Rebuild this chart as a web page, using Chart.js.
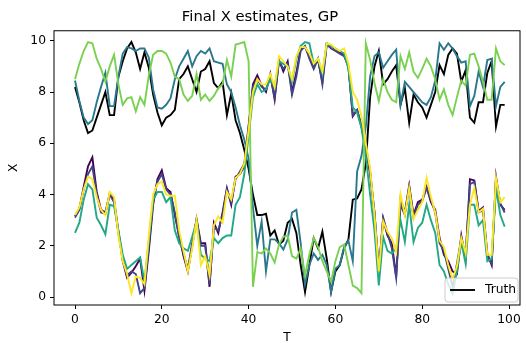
<!DOCTYPE html>
<html>
<head>
<meta charset="utf-8">
<script src="https://cdn.jsdelivr.net/npm/chart.js@4.4.0/dist/chart.umd.min.js"></script>
<style>
  html, body { margin: 0; padding: 0; background: #fff; }
  #wrap { width: 526px; height: 343px; position: relative; }
</style>
</head>
<body>
<div id="wrap"><canvas id="c" width="526" height="343"></canvas></div>
<script>
// ---- data ----
const T = Array.from({length: 100}, (_, i) => i);
const xTicks = [0, 20, 40, 60, 80, 100];
const yTicks = [0, 2, 4, 6, 8, 10];

const truth = [8.2,7.6,6.9,6.4,6.5,7.0,7.5,8.0,7.1,7.1, 8.6,9.2,9.7,9.95,9.55,8.9,9.55,8.95,7.9,7.2,
  6.7,7.0,7.1,7.3,8.5,8.7,9.0,8.5,8.0,8.8, 8.9,9.2,8.35,8.15,8.4,7.1,7.95,6.9,6.4,5.75,
  5.0,4.0,3.2,3.2,3.25,2.4,2.6,2.05,2.2,2.9, 3.05,2.5,1.25,0.2,1.25,2.3,1.9,2.55,1.5,0.2,
  1.0,1.25,1.9,2.25,3.8,3.85,4.2,5.2,7.8,9.0, 9.6,8.3,8.5,8.8,9.05,7.5,8.15,6.8,7.9,7.6,
  7.4,7.0,7.5,8.0,9.05,8.7,9.45,9.7,9.5,8.4, 8.85,7.0,6.8,7.6,7.6,8.75,9.2,6.65,7.5,7.5];

const estPurple = [3.15,3.45,4.3,5.1,5.45,4.1,3.4,3.3,4.05,3.8, 2.55,1.4,0.75,0.95,1.2,1.5,0.25,1.8,3.6,4.6,
  4.95,4.25,4.1,3.2,2.4,1.6,1.0,2.0,3.05,2.1, 2.1,0.4,2.9,2.5,3.3,4.25,3.6,4.7,4.8,5.1,
  6.6,8.3,8.65,8.25,8.0,8.7,7.7,9.25,8.8,9.2, 8.0,8.75,9.7,9.75,9.4,9.0,9.25,8.4,9.9,9.8,
  9.65,9.55,9.45,9.0,7.05,7.3,6.65,5.8,4.8,3.3, 1.0,3.05,2.4,2.1,0.8,3.8,3.3,4.35,3.2,3.7,
  3.8,4.3,3.7,3.4,2.3,1.65,1.4,1.0,0.9,2.4, 1.5,4.6,4.55,3.35,3.5,1.7,1.25,4.7,3.6,3.4];

const estBlue = [3.1,3.4,4.2,4.8,5.1,4.0,3.3,3.25,4.0,3.7, 2.5,1.5,0.85,1.0,0.9,0.15,0.35,2.0,3.8,4.5,
  4.8,4.2,4.0,3.3,2.3,1.7,1.1,2.1,3.0,2.0, 2.0,0.5,2.7,2.6,3.2,4.2,3.7,4.6,4.9,5.2,
  6.7,8.2,8.5,8.2,8.1,8.6,7.8,9.2,8.9,9.1, 7.9,8.6,9.6,9.8,9.3,8.9,9.3,8.3,9.85,9.7,
  9.6,9.5,9.4,9.0,7.1,7.3,6.7,5.9,4.9,3.3, 1.05,3.1,2.5,1.9,0.75,3.6,3.2,4.3,3.1,3.6,
  3.75,4.25,3.8,3.3,2.1,1.8,1.1,0.4,1.3,2.3, 1.6,4.4,4.5,3.3,3.4,1.6,1.3,4.6,3.65,3.3];

const estTeal = [8.45,7.65,7.0,6.75,6.9,7.6,8.2,8.75,7.45,7.45, 8.6,9.5,9.75,9.7,9.6,9.7,9.7,9.35,8.1,7.4,
  7.35,7.5,7.75,8.5,9.0,9.3,9.6,9.0,9.4,9.6, 9.5,9.7,9.2,9.15,9.1,8.3,8.0,7.4,6.7,6.15,
  5.4,3.5,2.0,2.95,1.0,2.25,2.25,2.1,1.85,2.25, 3.3,3.4,2.1,0.5,1.25,1.7,1.45,1.65,1.25,0.2,
  1.1,1.25,1.95,2.2,1.4,4.9,5.5,6.65,8.6,9.4, 9.55,8.95,9.2,9.45,9.65,7.5,8.4,8.2,8.0,7.8,
  7.6,7.5,7.8,8.45,9.9,9.65,9.9,9.7,9.4,9.15, 9.2,7.45,7.85,8.8,8.2,9.25,9.3,7.45,8.2,8.4];

const estGreen = [2.5,2.9,3.8,4.4,4.2,3.1,2.8,2.45,3.6,3.55, 2.6,1.65,1.1,1.25,1.4,1.55,0.6,2.2,3.8,4.1,
  4.1,3.7,3.9,2.6,2.1,1.9,1.8,2.35,2.95,1.65, 1.5,1.4,2.3,2.1,2.3,2.4,2.4,3.6,3.9,4.8,
  6.3,7.8,8.3,8.0,8.1,8.5,8.2,9.2,9.1,9.0, 8.4,9.3,9.8,9.95,9.9,9.1,9.3,8.7,9.9,9.8,
  9.7,9.6,9.5,8.9,7.4,7.2,6.6,5.5,4.0,2.6, 0.45,2.35,1.8,1.7,1.9,3.0,2.15,3.6,2.15,2.7,
  2.9,3.6,3.0,2.5,1.25,1.0,0.5,0.15,1.0,2.15, 1.3,3.6,3.6,2.8,3.0,1.4,1.5,4.25,3.2,2.75];

const estLime = [8.5,9.1,9.6,9.95,9.9,9.3,8.9,8.4,9.0,9.45, 8.3,7.5,7.75,7.8,7.25,7.8,7.5,8.65,9.45,9.6,
  9.6,9.5,9.15,8.6,8.5,7.9,7.65,7.85,8.7,7.7, 7.9,7.65,7.85,8.15,8.3,9.25,8.6,9.85,9.9,9.95,
  9.2,0.4,1.75,1.7,1.9,1.7,1.35,2.05,2.35,2.4, 1.6,1.5,1.9,0.85,1.65,2.3,1.95,1.4,1.0,0.6,
  1.4,1.95,2.05,1.25,0.45,0.35,0.15,9.9,9.25,8.35, 7.65,8.5,8.0,7.7,7.6,9.4,8.9,9.55,8.8,8.55,
  8.9,9.3,9.0,8.5,7.7,8.1,7.5,7.1,7.8,8.45, 8.25,9.45,9.5,9.0,8.4,7.7,7.7,9.7,9.2,9.05];

const estYellow = [3.2,3.5,4.2,4.7,4.6,3.9,3.4,3.2,4.1,3.9, 2.4,1.4,0.9,0.15,0.8,0.75,0.5,2.4,4.0,4.4,
  4.5,4.0,3.95,3.95,2.6,1.8,1.0,1.9,3.0,1.25, 1.6,0.85,2.8,3.15,2.9,4.1,3.8,4.65,4.8,5.2,
  6.5,8.0,8.5,8.3,8.3,8.7,8.2,9.4,9.2,9.0, 8.5,9.4,9.75,9.75,9.5,9.1,9.3,8.8,9.9,9.85,
  9.7,9.6,9.7,9.1,8.0,7.7,7.05,6.0,5.0,3.2, 1.0,2.95,2.55,2.3,1.75,4.0,3.2,4.25,3.05,3.4,
  3.7,4.65,3.9,3.3,2.2,1.95,1.25,0.7,1.2,2.3, 1.7,3.6,4.25,3.3,3.45,1.65,1.65,4.65,3.7,3.9];

const seriesList = [
  {label: 'Truth', values: truth, color: '#000000', order: 10},
  {label: '', values: estPurple, color: '#440154', order: 6},
  {label: '', values: estBlue, color: '#414487', order: 5},
  {label: '', values: estTeal, color: '#2a788e', order: 4},
  {label: '', values: estGreen, color: '#22a884', order: 3},
  {label: '', values: estLime, color: '#7ad151', order: 2},
  {label: '', values: estYellow, color: '#fde725', order: 1},
];

const FONT = "'DejaVu Sans', sans-serif";
const TICK_FONT = 12.3;

const framePlugin = {
  id: 'frame',
  afterDatasetsDraw(chart) {
    const {ctx, chartArea: a} = chart;
    ctx.save();
    ctx.strokeStyle = '#000';
    ctx.lineWidth = 1;
    ctx.strokeRect(a.left, a.top, a.right - a.left, a.bottom - a.top);
    // legend box (lower right, inside the axes)
    const bx = 445, by = 278, bw = 73, bh = 24, r = 3;
    ctx.beginPath();
    ctx.moveTo(bx + r, by);
    ctx.arcTo(bx + bw, by, bx + bw, by + bh, r);
    ctx.arcTo(bx + bw, by + bh, bx, by + bh, r);
    ctx.arcTo(bx, by + bh, bx, by, r);
    ctx.arcTo(bx, by, bx + bw, by, r);
    ctx.closePath();
    ctx.fillStyle = 'rgba(255,255,255,0.8)';
    ctx.fill();
    ctx.strokeStyle = '#cccccc';
    ctx.lineWidth = 1;
    ctx.stroke();
    ctx.beginPath();
    ctx.moveTo(450, 290);
    ctx.lineTo(475, 290);
    ctx.strokeStyle = '#000';
    ctx.lineWidth = 1.9;
    ctx.stroke();
    ctx.fillStyle = '#000';
    ctx.font = TICK_FONT + 'px ' + FONT;
    ctx.textBaseline = 'middle';
    ctx.textAlign = 'left';
    ctx.fillText(seriesList[0].label, 485, 290);
    ctx.restore();
  }
};

new Chart(document.getElementById('c'), {
  type: 'line',
  data: {
    datasets: seriesList.map(s => ({
      label: s.label,
      data: T.map((t, i) => ({x: t, y: s.values[i]})),
      borderColor: s.color,
      backgroundColor: s.color,
      borderWidth: 1.9,
      pointRadius: 0,
      tension: 0,
      fill: false,
      order: s.order,
    }))
  },
  options: {
    responsive: false,
    animation: false,
    devicePixelRatio: 1,
    layout: {padding: {left: 0, right: 6, top: 0, bottom: 0}},
    plugins: {
      legend: {display: false},
      tooltip: {enabled: false},
      title: {
        display: true,
        text: 'Final X estimates, GP',
        color: '#000',
        font: {family: FONT, size: 14.8, weight: 'normal', lineHeight: 1.2},
        padding: {top: 8, bottom: 5}
      }
    },
    scales: {
      x: {
        type: 'linear',
        min: -4.84, max: 102.53,
        afterBuildTicks: sc => { sc.ticks = xTicks.map(v => ({value: v})); },
        afterFit: sc => { sc.height = 38; },
        ticks: {color: '#000', font: {family: FONT, size: TICK_FONT}, padding: 3, maxRotation: 0},
        grid: {drawOnChartArea: false, drawTicks: true, tickLength: 4, tickColor: '#000', color: '#000'},
        border: {display: false},
        title: {display: true, text: 'T', color: '#000', font: {family: FONT, size: TICK_FONT, lineHeight: 0.9}, padding: {top: 0, bottom: 0}}
      },
      y: {
        type: 'linear',
        min: -0.31, max: 10.39,
        afterBuildTicks: sc => { sc.ticks = yTicks.map(v => ({value: v})); },
        afterFit: sc => { sc.width = 54; },
        ticks: {color: '#000', font: {family: FONT, size: TICK_FONT}, padding: 4},
        grid: {drawOnChartArea: false, drawTicks: true, tickLength: 4, tickColor: '#000', color: '#000'},
        border: {display: false},
        title: {display: true, text: 'X', color: '#000', font: {family: FONT, size: TICK_FONT, lineHeight: 1.2}, padding: {top: 6.5, bottom: 0}}
      }
    }
  },
  plugins: [framePlugin]
});
</script>
</body>
</html>
